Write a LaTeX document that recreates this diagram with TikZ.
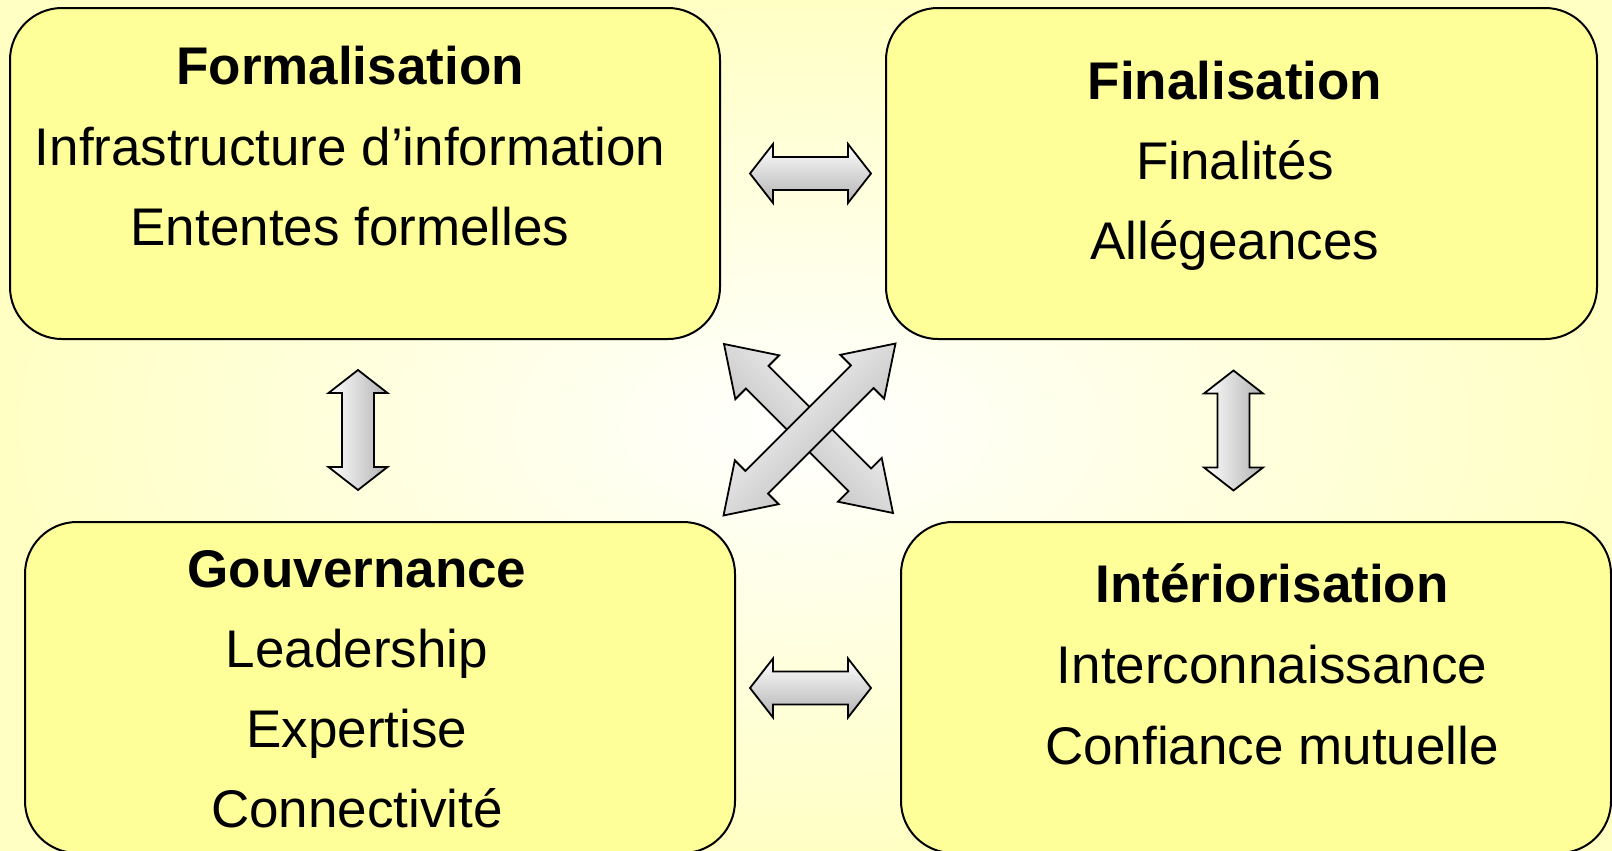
\documentclass[tikz,border=0pt]{standalone}
\usepackage{fontspec}
\setmainfont{Liberation Sans}
\definecolor{bgyellow}{RGB}{255,255,196}
\definecolor{boxyellow}{RGB}{255,255,153}
\definecolor{arrowgray}{RGB}{178,178,178}

% Double-headed block arrow drawn around a centre point.
% #1 centre, #2 rotation, #3 half length, #4 head length,
% #5 head half width, #6 shaft half width, #7 extra style
\newcommand\dblarrow[7]{%
  \begin{scope}[shift={#1}, rotate=#2]
    \path[blockarrow,#7] (-#3,0) -- ++(#4,-#5) -- ++(0,{#5-#6})
      -- ++({2*#3-2*#4},0) -- ++(0,{#6-#5}) -- ++(#4,#5)
      -- ++(-#4,#5) -- ++(0,{#6-#5}) -- ++({2*#4-2*#3},0)
      -- ++(0,{#5-#6}) -- cycle;
  \end{scope}}

\begin{document}
\begin{tikzpicture}[x=0.5pt,y=-0.5pt,
  box/.style={draw=black, line width=1pt, fill=boxyellow,
    rounded corners=26pt, inner sep=0pt, minimum height=165.5pt},
  title/.style={anchor=base, font=\fontsize{26.5pt}{32pt}\selectfont\bfseries},
  item/.style={anchor=base, font=\fontsize{26.5pt}{32pt}\selectfont},
  blockarrow/.style={draw=black, line width=0.9pt, line join=miter,
    top color=white, bottom color=arrowgray}]

% background glow
\useasboundingbox (0,0) rectangle (1612,851);
\shade[inner color=white, outer color=bgyellow] (0,0) rectangle (1612,851);

% the four quadrants
\node[box, minimum width=355pt]   (form) at (365,173.5)    {};
\node[box, minimum width=355.5pt] (fin)  at (1241.5,173.5) {};
\node[box, minimum width=355pt]   (gouv) at (380,687.5)    {};
\node[box, minimum width=355pt]   (inter) at (1256,687.5)  {};

% texts
\node[title] (formT)  at (350,84)  {Formalisation};
\node[item]  (formA)  at (350,165) {Infrastructure d’information};
\node[item]  (formB)  at (350,245) {Ententes formelles};

\node[title] (finT)   at (1235,99)  {Finalisation};
\node[item]  (finA)   at (1235,179) {Finalités};
\node[item]  (finB)   at (1235,259) {Allégeances};

\node[title] (gouvT)  at (357,587) {Gouvernance};
\node[item]  (gouvA)  at (357,667) {Leadership};
\node[item]  (gouvB)  at (357,747) {Expertise};
\node[item]  (gouvC)  at (357,827) {Connectivité};

\node[title] (interT) at (1272,602) {Intériorisation};
\node[item]  (interA) at (1272,683) {Interconnaissance};
\node[item]  (interB) at (1272,764) {Confiance mutuelle};

% block arrows between the quadrants
\dblarrow{(810.5,173.5)}{0}{60.5}{23}{29.5}{16.5}{}
\dblarrow{(810.5,688)}{0}{60.5}{23}{29.5}{16.5}{}
\dblarrow{(358,430)}{90}{60}{23}{29.5}{16}{left color=white, right color=arrowgray}
\dblarrow{(1233.5,430.5)}{90}{60}{23}{29.5}{16}{left color=white, right color=arrowgray}
\dblarrow{(808.5,428.5)}{-45}{119.5}{47}{31}{16}{shading angle=-45}
\dblarrow{(809.5,429.5)}{45}{121.6}{47}{31}{16}{shading angle=45}
\end{tikzpicture}
\end{document}
